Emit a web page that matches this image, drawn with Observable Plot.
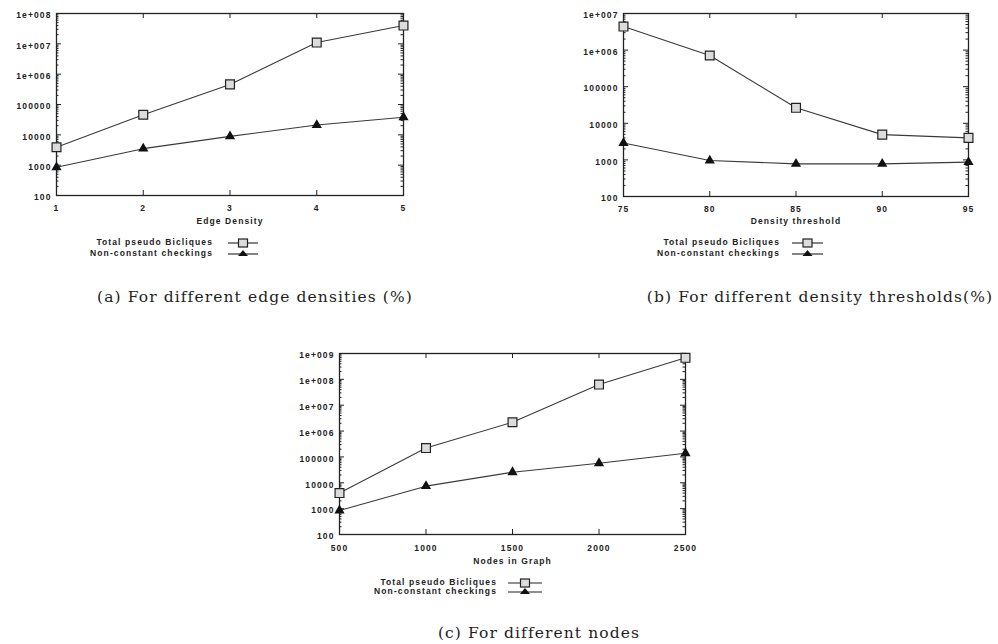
<!DOCTYPE html>
<html><head><meta charset="utf-8">
<script src="https://cdn.jsdelivr.net/npm/d3@7"></script>
<script src="https://cdn.jsdelivr.net/npm/@observablehq/plot@0.6"></script>
<style>
html,body{margin:0;padding:0;background:#fff;}
#page{position:relative;width:998px;height:644px;overflow:hidden;background:#fff;}
.chart{position:absolute;}
.chart svg{font-family:"Liberation Sans",Arial,sans-serif;font-size:8.5px;font-weight:bold;letter-spacing:1.1px;color:#222;overflow:visible;}
.cap{position:absolute;font-family:"DejaVu Serif",serif;font-size:15.5px;letter-spacing:1.1px;color:#1e1e1e;white-space:nowrap;transform:translate(-50%,-50%);}
.legend{position:absolute;left:0;top:0;overflow:visible;}
.legend text{font-family:"Liberation Sans",Arial,sans-serif;font-size:8.5px;font-weight:bold;letter-spacing:1.1px;fill:#222;}
</style>
</head><body><div id="page"></div>
<script>
// ---- data ----
const edgeDensity = [1, 2, 3, 4, 5];
const edgeTotal = [3900, 46000, 460000, 11000000, 40000000];
const edgeChecks = [850, 3500, 8900, 21000, 38000];

const densityThreshold = [75, 80, 85, 90, 95];
const thresholdTotal = [4400000, 710000, 26500, 4900, 4000];
const thresholdChecks = [2900, 960, 780, 780, 870];

const nodesInGraph = [500, 1000, 1500, 2000, 2500];
const nodesTotal = [4000, 220000, 2200000, 63000000, 680000000];
const nodesChecks = [850, 7400, 25700, 57000, 139000];

const seriesNames = ["Total pseudo Bicliques", "Non-constant checkings"];
const xLabels = ["Edge Density", "Density threshold", "Nodes in Graph"];
const captions = ["(a) For different edge densities (%)", "(b) For different density thresholds(%)", "(c) For different nodes"];

const page = document.getElementById("page");
const ink = "#222";

function fmt(d) {
  const e = Math.round(Math.log10(d));
  if (e >= 6) return "1e+" + String(e).padStart(3, "0");
  return String(Math.round(d));
}

function makeChart(cfg) {
  const {xs, total, checks, yMax, xLabel, left, top, width, height, ml, mr, mt, mb, labelDy, tickPad} = cfg;
  const maxE = Math.round(Math.log10(yMax));
  const majors = d3.range(2, maxE + 1).map(e => Math.pow(10, e));
  const minors = [];
  for (let e = 2; e < maxE; e++) for (let k = 2; k <= 9; k++) minors.push(k * Math.pow(10, e));
  const iw = width - ml - mr, ih = height - mt - mb;
  const rows = xs.map((x, i) => ({x, total: total[i], checks: checks[i]}));
  const svg = Plot.plot({
    width, height, marginLeft: ml, marginRight: mr, marginTop: mt, marginBottom: mb,
    x: {domain: [xs[0], xs[xs.length - 1]], label: null},
    y: {type: "log", domain: [100, yMax], label: null},
    marks: [
      Plot.tickY(majors, {y: d => d, insetRight: iw - 5, stroke: ink}),
      Plot.tickY(majors, {y: d => d, insetLeft: iw - 5, stroke: ink}),
      Plot.tickY(minors, {y: d => d, insetRight: iw - 2.5, stroke: ink}),
      Plot.tickY(minors, {y: d => d, insetLeft: iw - 2.5, stroke: ink}),
      Plot.tickX(xs, {x: d => d, insetTop: ih - 5, stroke: ink}),
      Plot.tickX(xs, {x: d => d, insetBottom: ih - 5, stroke: ink}),
      Plot.frame({stroke: ink, strokeWidth: 1.3}),
      Plot.axisY(majors, {tickSize: 0, tickPadding: 5, tickFormat: fmt, dy: 2, fill: ink}),
      Plot.axisX(xs, {tickSize: 0, tickPadding: tickPad, tickFormat: d => String(d), fill: ink}),
      Plot.text([xLabel], {frameAnchor: "bottom", dy: labelDy, fill: ink}),
      Plot.line(rows, {x: "x", y: "total", stroke: "#3a3a3a", strokeWidth: 1.1}),
      Plot.line(rows, {x: "x", y: "checks", stroke: "#3a3a3a", strokeWidth: 1.1}),
      Plot.dot(rows, {x: "x", y: "total", symbol: "square", r: 5, fill: "#dcdcdc", stroke: ink, strokeWidth: 1.2}),
      Plot.dot(rows, {x: "x", y: "checks", symbol: "triangle", r: 3.8, fill: "#111", stroke: "none"})
    ]
  });
  const div = document.createElement("div");
  div.className = "chart";
  div.style.left = left + "px";
  div.style.top = top + "px";
  div.style.width = width + "px";
  div.appendChild(svg);
  page.appendChild(div);
}

function makeLegend(textRight, y1, y2, lx1, lx2) {
  const ns = "http://www.w3.org/2000/svg";
  const s = document.createElementNS(ns, "svg");
  s.setAttribute("class", "legend");
  s.setAttribute("width", 998); s.setAttribute("height", 644);
  const rowsY = [y1, y2];
  rowsY.forEach((y, i) => {
    const t = document.createElementNS(ns, "text");
    t.setAttribute("x", textRight); t.setAttribute("y", y);
    t.setAttribute("text-anchor", "end"); t.setAttribute("dominant-baseline", "middle");
    t.textContent = seriesNames[i];
    s.appendChild(t);
    const l = document.createElementNS(ns, "line");
    l.setAttribute("x1", lx1); l.setAttribute("x2", lx2); l.setAttribute("y1", y); l.setAttribute("y2", y);
    l.setAttribute("stroke", "#222"); l.setAttribute("stroke-width", 1.1);
    s.appendChild(l);
    const cx = (lx1 + lx2) / 2;
    if (i === 0) {
      const r = document.createElementNS(ns, "rect");
      r.setAttribute("x", cx - 4.5); r.setAttribute("y", y - 4); r.setAttribute("width", 9); r.setAttribute("height", 8);
      r.setAttribute("fill", "#dcdcdc"); r.setAttribute("stroke", "#222"); r.setAttribute("stroke-width", 1.2);
      s.appendChild(r);
    } else {
      const p = document.createElementNS(ns, "path");
      p.setAttribute("d", `M${cx - 5},${y + 2}L${cx},${y - 4}L${cx + 5},${y + 2}Z`);
      p.setAttribute("fill", "#111");
      s.appendChild(p);
    }
  });
  page.appendChild(s);
}

function makeCaption(text, cx, cy) {
  const d = document.createElement("div");
  d.className = "cap";
  d.style.left = cx + "px"; d.style.top = cy + "px";
  d.textContent = text;
  page.appendChild(d);
}

makeChart({xs: edgeDensity, total: edgeTotal, checks: edgeChecks, yMax: 1e8, xLabel: xLabels[0],
  left: 0, top: 0, width: 420, height: 230, ml: 56, mr: 17, mt: 13, mb: 35, labelDy: 28, tickPad: 9});
makeChart({xs: densityThreshold, total: thresholdTotal, checks: thresholdChecks, yMax: 1e7, xLabel: xLabels[1],
  left: 560, top: 0, width: 420, height: 230, ml: 63, mr: 12, mt: 13, mb: 34, labelDy: 27, tickPad: 9});
makeChart({xs: nodesInGraph, total: nodesTotal, checks: nodesChecks, yMax: 1e9, xLabel: xLabels[2],
  left: 280, top: 340, width: 420, height: 230, ml: 59, mr: 15, mt: 13, mb: 36, labelDy: 29, tickPad: 10});

makeLegend(213, 243, 254, 228, 258);
makeLegend(780, 243, 254, 792, 823);
makeLegend(497, 583, 592, 508, 542);

makeCaption(captions[0], 255, 297);
makeCaption(captions[1], 820, 297);
makeCaption(captions[2], 539, 633);
</script>
</body></html>
